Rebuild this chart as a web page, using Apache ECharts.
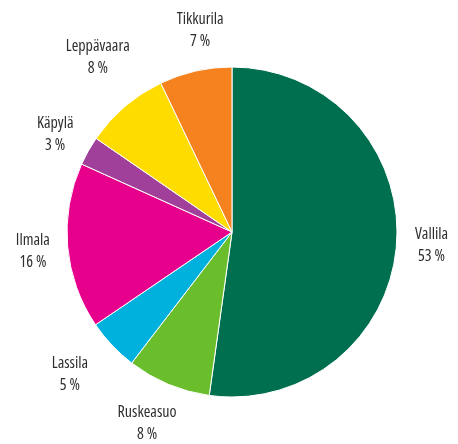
<!DOCTYPE html>
<html>
<head>
<meta charset="utf-8">
<script src="https://cdn.jsdelivr.net/npm/echarts@6/dist/echarts.min.js"></script>
<style>
  html, body { margin: 0; padding: 0; background: #fff; }
  #chart { width: 458px; height: 444px; }
</style>
</head>
<body>
<div id="chart"></div>
<script>
// osuudet, myötäpäivään ylhäältä (siivut arvioitu kuvasta, tekstit pyöristettyinä)
const names = ['Vallila', 'Ruskeasuo', 'Lassila', 'Ilmala', 'Käpylä', 'Leppävaara', 'Tikkurila'];
const shares = [52.2, 8.2, 5.1, 16.25, 2.85, 8.3, 7.1];
const shareLabels = ['53 %', '8 %', '5 %', '16 %', '3 %', '8 %', '7 %'];
const colors = ['#006f4f', '#6abd2b', '#00b1dd', '#e6008b', '#a0409a', '#ffdc00', '#f5821f'];

const cx = 232, cy = 232, r = 165, labelDist = 200;
// tekstien pieni käsin siirto: [kulma astetta, lisäetäisyys px]
const labelNudge = [[0, 0], [1.3, 9], [2, 16], [-0.5, 0], [-0.5, 2], [2.9, 20], [3.8, 4]];
const total = shares.reduce((a, b) => a + b, 0);

// lasketaan kunkin siivun keskikulma
const midAngles = [];
let acc = 0;
shares.forEach((v) => {
  midAngles.push(((acc + v / 2) / total) * Math.PI * 2);
  acc += v;
});

const chart = echarts.init(document.getElementById('chart'));
chart.setOption({
  animation: false,
  series: [{
    type: 'pie',
    center: [cx, cy],
    radius: r,
    startAngle: 90,
    clockwise: true,
    itemStyle: { borderColor: '#fff', borderWidth: 1 },
    label: {
      show: true,
      position: 'outside',
      formatter: (p) => p.name + '\n' + shareLabels[p.dataIndex],
      fontFamily: 'Open Sans',
      fontStyle: 'condensed',
      fontSize: 16,
      lineHeight: 22,
      color: '#2e2e2e',
      align: 'center',
      overflow: 'none',
    },
    labelLine: { show: false },
    labelLayout: function (params) {
      const i = params.dataIndex;
      const a = midAngles[i] + (labelNudge[i][0] * Math.PI) / 180;
      const d = labelDist + labelNudge[i][1];
      return {
        x: cx + Math.sin(a) * d,
        y: cy - Math.cos(a) * d,
        align: 'center',
        verticalAlign: 'middle',
      };
    },
    emphasis: { disabled: true },
    data: names.map((n, i) => ({ name: n, value: shares[i], itemStyle: { color: colors[i] } })),
  }],
});
</script>
</body>
</html>
